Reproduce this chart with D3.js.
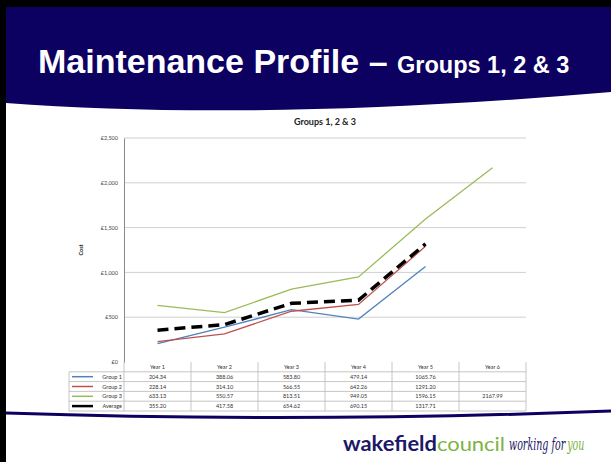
<!DOCTYPE html>
<html lang="en">
<head>
<meta charset="UTF-8">
<title>Maintenance Profile</title>
<style>
  body { margin: 0; background: #fff; }
  svg { display: block; }
</style>
<script src="https://cdn.jsdelivr.net/npm/d3@7"></script>
</head>
<body>
<div id="chart"></div>
<script>
// data
var years = ["Year 1", "Year 2", "Year 3", "Year 4", "Year 5", "Year 6"];
var group1 = [204.34, 388.06, 583.80, 479.14, 1065.76, null];
var group2 = [228.14, 314.10, 566.55, 642.26, 1291.20, null];
var group3 = [633.13, 550.57, 813.51, 949.05, 1596.15, 2167.99];
var average = [355.20, 417.58, 654.62, 690.15, 1317.71, null];
var yTicks = [0, 500, 1000, 1500, 2000, 2500];

var series = [
  {name: "Group 1", values: group1, color: "#4f81bd", width: 1.3, dash: null},
  {name: "Group 2", values: group2, color: "#c0504d", width: 1.3, dash: null},
  {name: "Group 3", values: group3, color: "#9bbb59", width: 1.3, dash: null},
  {name: "Average", values: average, color: "#000", width: 3.5, dash: "11,6"}
];

var W = 611, H = 462;
var navy = "#0c0060";

var svg = d3.select("#chart").append("svg")
    .attr("width", W)
    .attr("height", H);

// slide frame
svg.append("rect").attr("width", W).attr("height", H).attr("fill", "#fff");
svg.append("path")
    .attr("d", "M6,7 L611,7 L611,92 Q260,122 6,103 Z")
    .attr("fill", navy);
svg.append("rect").attr("x", 0).attr("y", 0).attr("width", W).attr("height", 7).attr("fill", "#000");
svg.append("rect").attr("x", 0).attr("y", 0).attr("width", 6).attr("height", H).attr("fill", "#000");

var title = svg.append("text")
    .attr("x", 38)
    .attr("y", 73)
    .attr("fill", "#fff")
    .attr("font-family", "Liberation Sans, Arial, sans-serif")
    .attr("font-weight", "bold");
title.append("tspan").attr("font-size", 34).text("Maintenance Profile \u2013 ");
title.append("tspan").attr("font-size", 23.5).text("Groups 1, 2 & 3");

// bottom swoosh
svg.append("path")
    .attr("d", "M6,413 Q300,423 611,411")
    .attr("fill", "none")
    .attr("stroke", navy)
    .attr("stroke-width", 3);

// logo
svg.append("text")
    .attr("x", 343).attr("y", 451)
    .attr("font-family", "Lato, sans-serif")
    .attr("font-size", 20)
    .attr("textLength", 162).attr("lengthAdjust", "spacingAndGlyphs")
  .call(function(t) {
    t.append("tspan").attr("fill", "#1c1866").attr("font-weight", "bold").text("wakefield");
    t.append("tspan").attr("fill", "#7cb342").text("council");
  });
var tag = svg.append("g")
    .attr("transform", "translate(509,450) scale(0.56,1)")
    .attr("font-family", "DejaVu Serif, serif")
    .attr("font-style", "italic")
    .attr("font-size", 17);
tag.append("text").attr("x", 0).attr("fill", "#1c1866").text("working for");
tag.append("text").attr("x", 104).attr("fill", "#7cb342").text("you");

// chart
var pLeft = 124, pRight = 526, pTop = 138, pBottom = 362;

var x = d3.scaleBand().domain(years).range([pLeft, pRight]);
var y = d3.scaleLinear().domain([0, 2500]).range([pBottom, pTop]);

var font = "Lato, Carlito, sans-serif";

svg.append("text")
    .attr("x", (pLeft + pRight) / 2)
    .attr("y", 125)
    .attr("text-anchor", "middle")
    .attr("font-family", font)
    .attr("font-weight", "bold")
    .attr("font-size", 9)
    .attr("fill", "#222")
    .text("Groups 1, 2 & 3");

svg.append("g").selectAll("line")
    .data(yTicks.slice(1))
    .enter().append("line")
    .attr("x1", pLeft).attr("x2", pRight)
    .attr("y1", function(d) { return y(d); })
    .attr("y2", function(d) { return y(d); })
    .attr("stroke", "#d0d0d0")
    .attr("stroke-width", 1);

var yAxis = svg.append("g")
    .attr("transform", "translate(" + pLeft + ",0)")
    .call(d3.axisLeft(y).tickValues(yTicks).tickSize(0).tickPadding(6)
      .tickFormat(function(d) { return "\u00a3" + d3.format(",")(d); }));
yAxis.select(".domain").attr("stroke", "#888");
yAxis.selectAll("text").attr("font-family", font).attr("font-size", 5.5).attr("fill", "#444");

svg.append("text")
    .attr("transform", "translate(83,250) rotate(-90)")
    .attr("text-anchor", "middle")
    .attr("font-family", font)
    .attr("font-weight", "bold")
    .attr("font-size", 5.5)
    .attr("fill", "#222")
    .text("Cost");

var line = d3.line()
    .defined(function(d) { return d.v != null; })
    .x(function(d) { return x(d.year) + x.bandwidth() / 2; })
    .y(function(d) { return y(d.v); });

svg.append("g").selectAll("path")
    .data(series)
    .enter().append("path")
    .attr("fill", "none")
    .attr("stroke", function(d) { return d.color; })
    .attr("stroke-width", function(d) { return d.width; })
    .attr("stroke-dasharray", function(d) { return d.dash; })
    .attr("d", function(d) {
      return line(d.values.map(function(v, i) { return {year: years[i], v: v}; }));
    });

// data table
var rowH = 9.8, tblLeft = 69;
var rows = d3.scaleBand().domain(["hdr"].concat(series.map(function(s) { return s.name; })))
    .range([pBottom, pBottom + rowH * 5]);
var tbl = svg.append("g");
var grid = "#b8b8b8";

// horizontal lines
tbl.selectAll(".hl")
    .data(series)
    .enter().append("line")
    .attr("x1", tblLeft).attr("x2", pRight)
    .attr("y1", function(d) { return rows(d.name); })
    .attr("y2", function(d) { return rows(d.name); })
    .attr("stroke", grid).attr("stroke-width", 0.8);
tbl.append("line")
    .attr("x1", tblLeft).attr("x2", pRight)
    .attr("y1", pBottom + rowH * 5).attr("y2", pBottom + rowH * 5)
    .attr("stroke", grid).attr("stroke-width", 0.8);
// vertical lines
tbl.selectAll(".vl")
    .data(years)
    .enter().append("line")
    .attr("x1", function(d) { return x(d) + x.bandwidth(); })
    .attr("x2", function(d) { return x(d) + x.bandwidth(); })
    .attr("y1", pBottom).attr("y2", pBottom + rowH * 5)
    .attr("stroke", grid).attr("stroke-width", 0.8);
tbl.append("line")
    .attr("x1", pLeft).attr("x2", pLeft)
    .attr("y1", pBottom).attr("y2", pBottom + rowH * 5)
    .attr("stroke", grid).attr("stroke-width", 0.8);
tbl.append("line")
    .attr("x1", tblLeft).attr("x2", tblLeft)
    .attr("y1", rows("Group 1")).attr("y2", pBottom + rowH * 5)
    .attr("stroke", grid).attr("stroke-width", 0.8);

tbl.selectAll(".yr")
    .data(years)
    .enter().append("text")
    .attr("x", function(d) { return x(d) + x.bandwidth() / 2; })
    .attr("y", pBottom + rowH / 2 + 2)
    .attr("text-anchor", "middle")
    .attr("font-family", font).attr("font-size", 5.5).attr("fill", "#333")
    .text(function(d) { return d; });

var rowG = tbl.selectAll(".row")
    .data(series)
    .enter().append("g")
    .attr("transform", function(d) { return "translate(0," + (rows(d.name) + rowH / 2) + ")"; });

rowG.append("line")
    .attr("x1", tblLeft + 3).attr("x2", tblLeft + 24)
    .attr("stroke", function(d) { return d.color; })
    .attr("stroke-width", function(d) { return d.name === "Average" ? 2.5 : 1.5; });
rowG.append("text")
    .attr("x", pLeft - 2)
    .attr("y", 2)
    .attr("text-anchor", "end")
    .attr("font-family", font).attr("font-size", 5.5).attr("fill", "#333")
    .text(function(d) { return d.name; });
rowG.selectAll(".val")
    .data(function(d) { return d.values.map(function(v, i) { return {year: years[i], v: v}; }); })
    .enter().append("text")
    .attr("x", function(d) { return x(d.year) + x.bandwidth() / 2; })
    .attr("y", 2)
    .attr("text-anchor", "middle")
    .attr("font-family", font).attr("font-size", 5.5).attr("fill", "#333")
    .text(function(d) { return d.v == null ? "" : d3.format(".2f")(d.v); });
</script>
</body>
</html>
